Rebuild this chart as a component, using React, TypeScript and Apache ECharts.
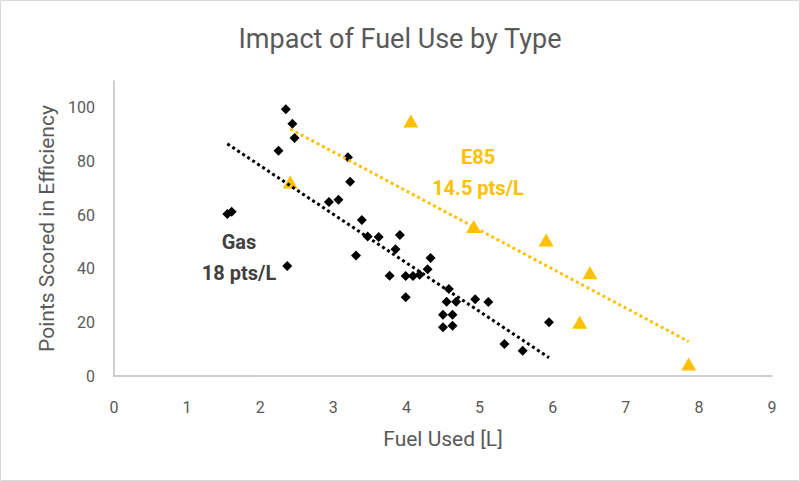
import React, { useEffect, useRef } from "react";
import * as echarts from "echarts";

// Gas runs: fuel used [L] and efficiency points
const gasFuel = [
  2.35, 2.44, 2.47, 2.25, 3.2, 3.23, 2.94, 3.07, 3.39, 3.47, 3.62, 3.91,
  3.85, 3.31, 4.33, 4.29, 3.99, 4.09, 4.18, 3.77, 3.99, 4.58, 4.55, 4.68,
  4.94, 5.12, 4.5, 4.63, 4.5, 4.63, 5.95, 5.34, 5.59, 1.55, 1.61, 2.37,
];
const gasPoints = [
  99.5, 94.1, 88.7, 84.0, 81.6, 72.4, 64.9, 65.7, 58.2, 52.0, 51.8, 52.6,
  47.3, 44.9, 44.0, 39.8, 37.3, 37.3, 37.8, 37.4, 29.4, 32.4, 27.7, 27.7,
  28.6, 27.6, 22.8, 22.8, 18.2, 18.7, 20.0, 11.9, 9.4, 60.4, 61.2, 41.0,
];

// E85 runs
const e85Fuel = [4.06, 2.41, 4.92, 5.91, 6.51, 6.37, 7.86];
const e85Points = [95.1, 72.3, 55.7, 50.7, 38.5, 20.0, 4.5];

// Axis ranges
const xRange = [0, 9];
const xStep = 1;
const yRange = [0, 110];
const yStep = 20;

const gasLabel = ["Gas", "18 pts/L"];
const e85Label = ["E85", "14.5 pts/L"];

const GOLD = "#FFC000";
const TEXT = "#595959";
const AXIS = "#BFBFBF";
const FONT = "Roboto, sans-serif";

// Least-squares line across the data's x span
function linearFit(xs: number[], ys: number[]): number[][] {
  const n = xs.length;
  const mx = xs.reduce((a, b) => a + b, 0) / n;
  const my = ys.reduce((a, b) => a + b, 0) / n;
  let sxx = 0;
  let sxy = 0;
  for (let i = 0; i < n; i++) {
    sxx += (xs[i] - mx) * (xs[i] - mx);
    sxy += (xs[i] - mx) * (ys[i] - my);
  }
  const slope = sxy / sxx;
  const intercept = my - slope * mx;
  const x0 = Math.min(...xs);
  const x1 = Math.max(...xs);
  return [
    [x0, intercept + slope * x0],
    [x1, intercept + slope * x1],
  ];
}

export default function App() {
  const ref = useRef<HTMLDivElement>(null);

  useEffect(() => {
    if (!ref.current) return;
    const chart = echarts.init(ref.current, undefined, { renderer: "svg" });

    const gasData = gasFuel.map((x, i) => [x, gasPoints[i]]);
    const e85Data = e85Fuel.map((x, i) => [x, e85Points[i]]);

    chart.setOption({
      animation: false,
      backgroundColor: "#ffffff",
      title: {
        text: "Impact of Fuel Use by Type",
        left: "center",
        top: 20,
        textStyle: {
          fontFamily: FONT,
          fontSize: 27,
          fontWeight: "normal",
          color: TEXT,
        },
      },
      grid: { left: 114, right: 28, top: 81, bottom: 105 },
      xAxis: {
        type: "value",
        min: xRange[0],
        max: xRange[1],
        interval: xStep,
        name: "Fuel Used [L]",
        nameLocation: "middle",
        nameGap: 52,
        nameTextStyle: { fontFamily: FONT, fontSize: 21, color: TEXT },
        axisLine: { show: true, lineStyle: { color: AXIS, width: 1.5 } },
        axisTick: { show: false },
        splitLine: { show: false },
        axisLabel: { margin: 23, fontSize: 16, color: TEXT, fontFamily: FONT },
      },
      yAxis: {
        type: "value",
        min: yRange[0],
        max: yRange[1],
        interval: yStep,
        name: "Points Scored in Efficiency",
        nameLocation: "middle",
        nameGap: 54,
        nameTextStyle: { fontFamily: FONT, fontSize: 21, color: TEXT },
        axisLine: { show: true, lineStyle: { color: AXIS, width: 1.5 } },
        axisTick: { show: false },
        splitLine: { show: false },
        axisLabel: {
          margin: 19,
          fontSize: 16,
          color: TEXT,
          fontFamily: FONT,
          showMaxLabel: false,
        },
      },
      series: [
        {
          name: "Gas",
          type: "scatter",
          symbol: "diamond",
          symbolSize: 10,
          itemStyle: { color: "#000000", opacity: 1 },
          data: gasData,
          silent: true,
          z: 2,
        },
        {
          name: "E85",
          type: "scatter",
          symbol: "triangle",
          symbolSize: [15, 13],
          itemStyle: { color: GOLD, opacity: 1 },
          data: e85Data,
          silent: true,
          z: 2,
        },
        {
          name: "Gas trend",
          type: "line",
          data: linearFit(gasFuel, gasPoints),
          showSymbol: false,
          symbol: "none",
          lineStyle: { color: "#000000", width: 3, type: [3, 3] },
          silent: true,
          z: 3,
        },
        {
          name: "E85 trend",
          type: "line",
          data: linearFit(e85Fuel, e85Points),
          showSymbol: false,
          symbol: "none",
          lineStyle: { color: GOLD, width: 3, type: [3, 3] },
          silent: true,
          z: 3,
        },
      ],
      graphic: [
        {
          type: "rect",
          shape: { x: 0.5, y: 0.5, width: 799, height: 480 },
          style: { fill: "none", stroke: "#D9D9D9", lineWidth: 1 },
          silent: true,
        },
        {
          type: "text",
          x: 239,
          y: 226,
          style: {
            text: gasLabel.join("\n"),
            align: "center",
            verticalAlign: "top",
            lineHeight: 31,
            fontFamily: FONT,
            fontSize: 20,
            fontWeight: "bold",
            fill: "#404040",
          },
          silent: true,
        },
        {
          type: "text",
          x: 478,
          y: 141,
          style: {
            text: e85Label.join("\n"),
            align: "center",
            verticalAlign: "top",
            lineHeight: 31,
            fontFamily: FONT,
            fontSize: 20,
            fontWeight: "bold",
            fill: GOLD,
          },
          silent: true,
        },
      ],
    });

    return () => chart.dispose();
  }, []);

  return (
    <div
      ref={ref}
      style={{ position: "absolute", left: 0, top: 0, width: 800, height: 481 }}
    />
  );
}
